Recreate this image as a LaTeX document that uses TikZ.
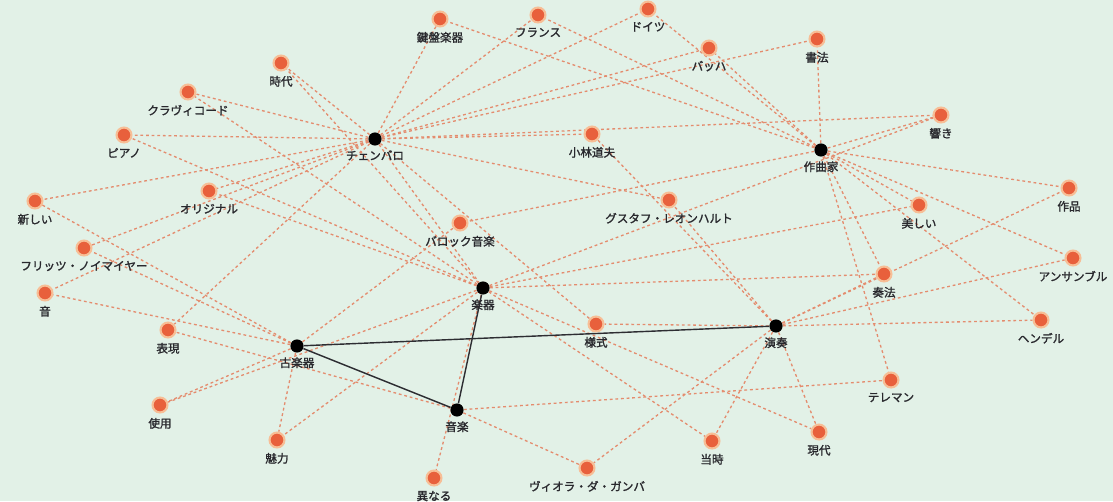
\documentclass[tikz,border=0pt]{standalone}
\usepackage{fontspec}
\newfontfamily\jpfont[FakeBold=1.5]{Noto Sans CJK JP}
\usepackage{tikz}
\usetikzlibrary{backgrounds}

\definecolor{bgmint}{RGB}{226,241,231}
\definecolor{dotorange}{RGB}{232,96,60}
\definecolor{dothalo}{RGB}{247,190,150}
\definecolor{edgeorange}{RGB}{228,140,110}
\definecolor{edgesolid}{RGB}{45,45,50}
\definecolor{labelgray}{RGB}{40,40,45}

\tikzset{
  kw/.style={circle,fill=dotorange,draw=dothalo,line width=1.2pt,inner sep=0pt,minimum size=8.5pt,
    label={[labelgray,font=\jpfont\fontsize{6.6}{7}\selectfont,label distance=-1pt]below:#1}},
  hub/.style={circle,fill=black,inner sep=0pt,minimum size=7.5pt,
    label={[labelgray,font=\jpfont\fontsize{6.6}{7}\selectfont,label distance=-1pt]below:#1}},
  weak/.style={edgeorange,dash pattern=on 1.6pt off 1.6pt,line width=0.75pt},
  strong/.style={edgesolid,line width=0.8pt}
}

\begin{document}
\begin{tikzpicture}[x=0.02cm,y=-0.02cm]
\useasboundingbox (0,0) rectangle (1113,501);

% Define the hub nodes
\node[hub=チェンバロ] (cemb) at (375,139) {};
\node[hub=作曲家] (sakkyoku) at (821,150) {};
\node[hub=楽器] (gakki) at (483,288) {};
\node[hub=古楽器] (kogakki) at (297,346) {};
\node[hub=演奏] (ensou) at (776,326) {};
\node[hub=音楽] (ongaku) at (457,410) {};

% Define the keyword nodes, top row first
\node[kw=鍵盤楽器] (kenban) at (440,19) {};
\node[kw=フランス] (france) at (538,15) {};
\node[kw=ドイツ] (germany) at (648,9) {};
\node[kw=バッハ] (bach) at (709,48) {};
\node[kw=書法] (shohou) at (817,39) {};
\node[kw=時代] (jidai) at (281,63) {};
\node[kw=クラヴィコード] (clavi) at (188,92) {};
\node[kw=ピアノ] (piano) at (124,135) {};
\node[kw=小林道夫] (kobayashi) at (592,134) {};
\node[kw=響き] (hibiki) at (941,115) {};
\node[kw=新しい] (atarashii) at (35,201) {};
\node[kw=オリジナル] (original) at (209,191) {};
\node[kw=作品] (sakuhin) at (1069,188) {};
\node[kw=グスタフ・レオンハルト] (leonhardt) at (669,200) {};
\node[kw=美しい] (utsukushii) at (919,205) {};
\node[kw=バロック音楽] (baroque) at (460,223) {};
\node[kw=フリッツ・ノイマイヤー] (neumeyer) at (84,248) {};
\node[kw=アンサンブル] (ensemble) at (1073,258) {};
\node[kw=音] (oto) at (45,293) {};
\node[kw=奏法] (souhou) at (884,274) {};
\node[kw=表現] (hyougen) at (168,330) {};
\node[kw=様式] (youshiki) at (596,324) {};
\node[kw=ヘンデル] (handel) at (1041,320) {};
\node[kw=テレマン] (telemann) at (891,380) {};
\node[kw=使用] (shiyou) at (160,405) {};
\node[kw=魅力] (miryoku) at (277,440) {};
\node[kw=現代] (gendai) at (819,432) {};
\node[kw=当時] (touji) at (712,441) {};
\node[kw=異なる] (kotonaru) at (434,478) {};
\node[kw=ヴィオラ・ダ・ガンバ] (gamba) at (587,468) {};

\begin{scope}[on background layer]
% background
\fill[bgmint] (0,0) rectangle (1113,501);

% dashed co-occurrence links
\foreach \a in {kenban,france,germany,bach,shohou,jidai,clavi,piano,kobayashi,hibiki,
                atarashii,original,neumeyer,oto,hyougen,youshiki,leonhardt,gakki}
  \draw[weak] (cemb) -- (\a);
\foreach \a in {kenban,france,germany,bach,shohou,hibiki,sakuhin,utsukushii,ensemble,
                handel,telemann,souhou,baroque}
  \draw[weak] (sakkyoku) -- (\a);
\foreach \a in {piano,clavi,jidai,original,shiyou,miryoku,utsukushii,souhou,touji,gendai,
                hibiki,kotonaru}
  \draw[weak] (gakki) -- (\a);
\foreach \a in {atarashii,neumeyer,oto,shiyou,miryoku,baroque}
  \draw[weak] (kogakki) -- (\a);
\foreach \a in {kobayashi,leonhardt,sakuhin,ensemble,souhou,handel,gendai,touji,gamba,youshiki}
  \draw[weak] (ensou) -- (\a);
\foreach \a in {hyougen,telemann,gamba}
  \draw[weak] (ongaku) -- (\a);

% solid links between hubs
\draw[strong] (kogakki) -- (ensou);
\draw[strong] (kogakki) -- (ongaku);
\draw[strong] (ongaku) -- (gakki);
\end{scope}
\end{tikzpicture}
\end{document}
